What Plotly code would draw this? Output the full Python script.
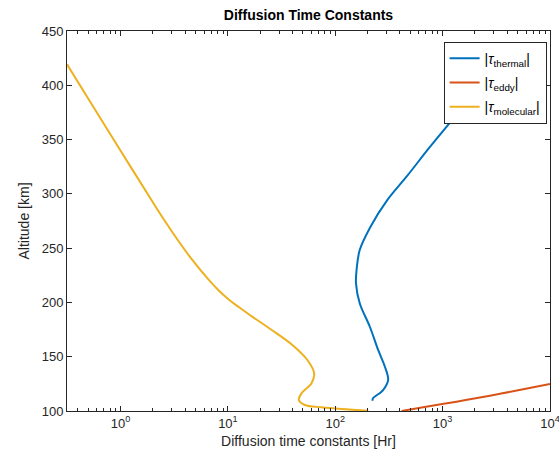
import plotly.graph_objects as go

# Thermal diffusion time constant (hr) vs altitude (km)
thermal_alt = [109.5, 111.7, 119.3, 128.6, 140.8, 156.2, 177.6, 199.2, 217.6, 229.9, 248.3,
               269.8, 294.3, 315.8, 343.2, 367.4, 390.0, 419.0]
thermal_tau = [222, 225, 279, 311, 290, 251, 210, 169, 156, 158, 169,
               213, 305, 461, 762, 1213, 1875, 3300]

# Eddy diffusion time constant
eddy_alt = [100.0, 103.4, 108.6, 114.1, 120.0, 124.9]
eddy_tau = [415, 659, 1349, 2761, 5636, 10000]

# Molecular diffusion time constant
mol_alt = [419.3, 386.4, 340.4, 294.3, 275.9, 257.5, 239.1, 220.7, 211.4, 202.2, 195.3, 188.4,
           174.6, 160.8, 147.0, 134.7, 125.5, 116.3, 110.1, 105.5, 103.4, 101.8, 100.3]
mol_tau = [0.317, 0.509, 0.991, 1.94, 2.55, 3.41, 4.66, 6.64, 8.13, 10.3, 12.8, 16.0,
           25.6, 39.8, 55.0, 63.6, 60.1, 48.5, 45.8, 52.1, 74.5, 114.5, 203]

xtick_vals = [1, 10, 100, 1000, 10000]
xtick_text = ["10<sup>0</sup>", "10<sup>1</sup>", "10<sup>2</sup>", "10<sup>3</sup>", "10<sup>4</sup>"]
xminor_vals = [m * d for d in [0.1, 1, 10, 100, 1000] for m in range(2, 10)]
ytick_vals = [100, 150, 200, 250, 300, 350, 400, 450]

names = ["|<i>τ</i><sub>thermal</sub>|", "|<i>τ</i><sub>eddy</sub>|", "|<i>τ</i><sub>molecular</sub>|"]
colors = ["#0072BD", "#D95319", "#EDB120"]

fig = go.Figure()
for i, (x, y, n, c) in enumerate([(thermal_tau, thermal_alt, names[0], colors[0]),
                                  (eddy_tau, eddy_alt, names[1], colors[1]),
                                  (mol_tau, mol_alt, names[2], colors[2])]):
    fig.add_trace(go.Scatter(x=x, y=y, mode="lines", name=n, legendgroup=f"g{i}",
                             line=dict(color=c, width=2, shape="spline", smoothing=1.0)))

axis_common = dict(showline=True, linecolor="#262626", linewidth=1, mirror="ticks",
                   ticks="inside", tickcolor="#262626", ticklen=5, showgrid=False,
                   zeroline=False, automargin=False,
                   tickfont=dict(family="Liberation Sans, Arial", size=13, color="#262626"))

fig.update_xaxes(type="log", range=[-0.499, 4.0005], tickvals=xtick_vals, ticktext=xtick_text,
                 ticklabeloverflow="allow",
                 minor=dict(tickmode="array", tickvals=xminor_vals, ticks="inside", ticklen=3,
                            tickcolor="#262626", showgrid=False),
                 title=dict(text="Diffusion time constants [Hr]",
                            font=dict(family="Liberation Sans, Arial", size=14, color="#262626"),
                            standoff=6),
                 **axis_common)
fig.update_yaxes(range=[100, 450], tickvals=ytick_vals,
                 title=dict(text="Altitude [km]",
                            font=dict(family="Liberation Sans, Arial", size=14, color="#262626"),
                            standoff=8),
                 **axis_common)

fig.update_layout(
    width=559, height=465,
    margin=dict(l=67, r=9, t=31, b=54, autoexpand=False),
    paper_bgcolor="white", plot_bgcolor="white",
    title=dict(text="<b>Diffusion Time Constants</b>", x=(67 + 550) / 2 / 559, xanchor="center",
               y=1 - 15 / 465, yanchor="middle",
               font=dict(family="Liberation Sans, Arial", size=14, color="black")),
    showlegend=True,
    legend=dict(x=0.993, y=0.972, xanchor="right", yanchor="top",
                bgcolor="white", bordercolor="#262626", borderwidth=1,
                font=dict(family="Liberation Sans, Arial", size=14, color="black"),
                itemwidth=30, tracegroupgap=3, entrywidth=85, entrywidthmode="pixels"),
)

fig.write_html("out.html")
